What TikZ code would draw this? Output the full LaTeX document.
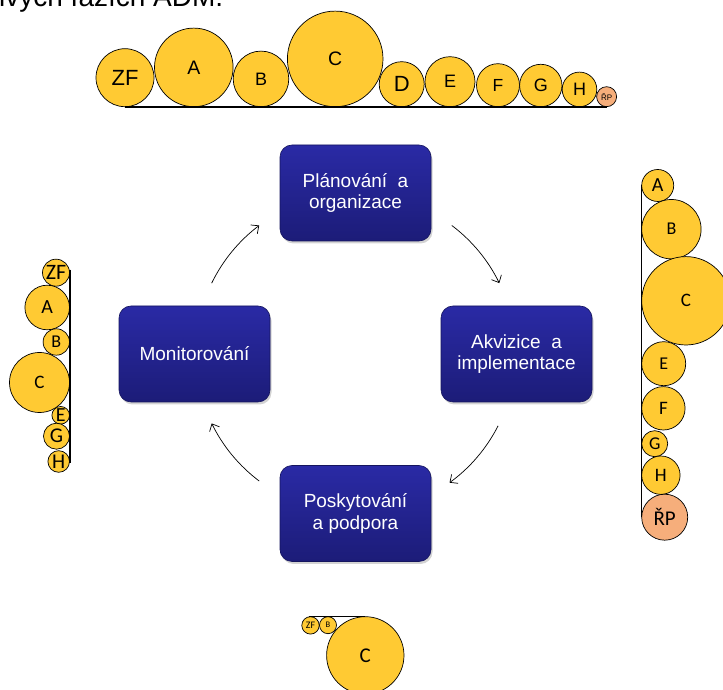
\documentclass[tikz,border=0pt]{standalone}
\usepackage{fontspec}
\setmainfont{Liberation Sans}
\newfontfamily\bubfont{Carlito}
\usetikzlibrary{arrows.meta,shadows}

\definecolor{bubyellow}{HTML}{FFCA33}
\definecolor{bubsalmon}{HTML}{F6AE7B}
\definecolor{boxtop}{HTML}{2A2AA5}
\definecolor{boxbot}{HTML}{1C1C78}
\definecolor{boxedge}{HTML}{15155E}

\tikzset{
  phase/.style={rectangle, rounded corners=12pt, minimum width=151pt, minimum height=96pt,
    top color=boxtop, bottom color=boxbot, draw=boxedge, line width=0.6pt,
    text=white, align=center, font=\fontsize{19}{21.5}\selectfont,
    drop shadow={shadow xshift=1.5pt, shadow yshift=-2.5pt, opacity=0.35}},
  bubble/.style={circle, draw=black, line width=0.7pt, fill=bubyellow, inner sep=0pt, text=black},
  rpbubble/.style={bubble, fill=bubsalmon},
  barline/.style={line width=1.6pt, black},
  cyc/.style={line width=0.7pt, -{Straight Barb[length=6pt,width=11pt]}}
}

\begin{document}
\begin{tikzpicture}[x=1pt,y=1pt]
\useasboundingbox (0,0) rectangle (723,690);

% cut-off heading
\node[anchor=base west, inner sep=0pt, font=\fontsize{28}{30}\selectfont] (head) at (-1,683) {ivých fázích ADM.};

% phases
\node[phase] (plan) at (355.5,497) {Plánování~~a\\organizace};
\node[phase] (akv) at (516.5,336) {Akvizice~~a\\implementace};
\node[phase] (posk) at (355.5,176.5) {Poskytování\\a podpora};
\node[phase] (mon) at (194.5,336) {Monitorování};

% cycle arrows
\coordinate (c) at (355.5,336.75);
\foreach \a in {53,-27,233,154}{
  \coordinate (s\a) at ([shift={(\a:160)}]c);
  \draw[cyc] (s\a) arc[start angle=\a, end angle={\a-27}, radius=160];
}

% top row of bubbles
\foreach \nm/\x/\r/\lab/\fs in {zf/125/29/ZF/22, a/193.8/39.3/A/19.5, b/261/27.8/B/18,
    c/335.2/47.8/C/19.5, d/401.7/22.5/D/22, e/450/25/E/18, f/498/21.5/F/17.5,
    g/540.8/21.2/G/18, h/579.5/17.3/H/18}{
  \node[bubble, minimum size={2*\r*1pt}] (top\nm) at (\x,{583.3+\r})
    {\fontsize{\fs}{\fs}\selectfont\lab};
}
\node[rpbubble, minimum size=20pt] (toprp) at (606.6,593.3) {\fontsize{8}{8}\selectfont ŘP};
\draw[barline] (topzf.south) -- (toprp.south);

% left column
\foreach \nm/\y/\r/\lab/\fs in {zf/417.3/13.5/ZF/22, a/382.5/22.3/A/20, b/348/13.2/B/18,
    c/307.5/30/C/19, e/274.7/8.8/E/20, g/253.8/13/G/21, h/228.5/10.8/H/21}{
  \node[bubble, minimum size={2*\r*1pt}] (left\nm) at ({69.5-\r},\y)
    {\bubfont\fontsize{\fs}{\fs}\selectfont\lab};
}
\draw[barline] ([yshift=3pt]leftzf.east) -- ([yshift=-1.5pt]lefth.east);

% right column
\foreach \nm/\y/\r/\lab/\fs in {a/504.5/16/A/20, b/460.8/29.7/B/18, c/389.2/44.2/C/19,
    e/326.3/22/E/18, f/281.7/21.7/F/19, g/246.3/13/G/18, h/214.8/19.2/H/19}{
  \node[bubble, minimum size={2*\r*1pt}] (right\nm) at ({641.7+\r},\y)
    {\bubfont\fontsize{\fs}{\fs}\selectfont\lab};
}
\node[rpbubble, minimum size=46pt] (rightrp) at (664.7,172.8) {\bubfont\fontsize{21}{21}\selectfont ŘP};
\draw[barline] (righta.west) -- (rightrp.west);

% bottom row
\foreach \nm/\x/\r/\lab/\fs in {zf/310.5/8.7/ZF/10, b/328/8.5/B/8.5, c/365.3/38.7/C/21}{
  \node[bubble, minimum size={2*\r*1pt}] (bot\nm) at (\x,{73.3-\r})
    {\bubfont\fontsize{\fs}{\fs}\selectfont\lab};
}
\draw[barline] ([xshift=-2pt]botzf.north |- botc.north) -- (botc.north);

\end{tikzpicture}
\end{document}
